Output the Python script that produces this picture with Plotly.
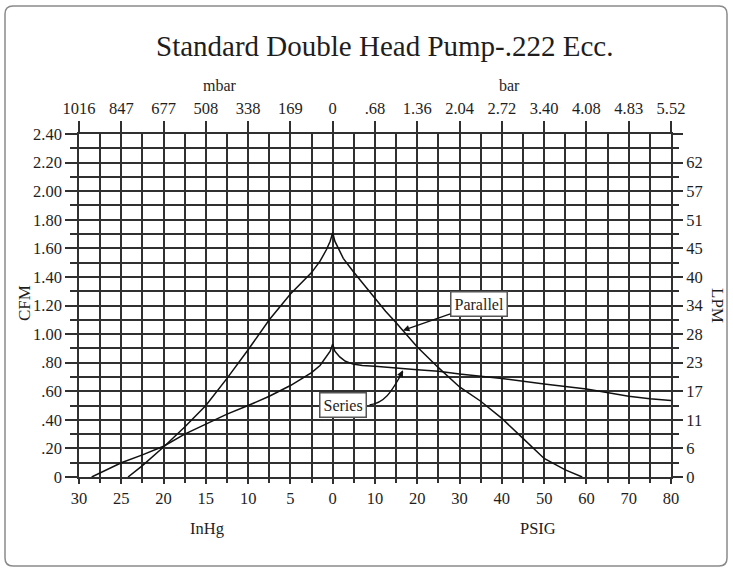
import numpy as np
import plotly.graph_objects as go

TITLE = "Standard Double Head Pump-.222 Ecc."

# Axis tick labels (positions -6..8 : 30..0 InHg vacuum, then 0..80 PSIG)
tick_pos = list(range(-6, 9))
bottom_labels = ["30", "25", "20", "15", "10", "5", "0", "10", "20", "30", "40", "50", "60", "70", "80"]
top_labels = ["1016", "847", "677", "508", "338", "169", "0", ".68", "1.36", "2.04", "2.72", "3.40", "4.08", "4.83", "5.52"]
cfm_vals = [0, 0.2, 0.4, 0.6, 0.8, 1.0, 1.2, 1.4, 1.6, 1.8, 2.0, 2.2, 2.4]
cfm_labels = ["0", ".20", ".40", ".60", ".80", "1.00", "1.20", "1.40", "1.60", "1.80", "2.00", "2.20", "2.40"]
lpm_labels = ["0", "6", "11", "17", "23", "28", "34", "40", "45", "51", "57", "62", ""]

# Parallel curve
par_vac_inhg = [24.2, 22.5, 20, 17.5, 15, 12.5, 10, 7.5, 5, 2.5, 1.5, 0.75, 0.3, 0]
par_vac_cfm = [0, 0.08, 0.21, 0.35, 0.50, 0.69, 0.89, 1.10, 1.28, 1.43, 1.51, 1.59, 1.65, 1.71]
par_prs_psig = [0.5, 1.3, 2.5, 4.8, 7.5, 9.6, 12.5, 15, 20, 25, 30, 35, 40, 45, 50, 55, 59]
par_prs_cfm = [1.65, 1.60, 1.53, 1.44, 1.34, 1.26, 1.16, 1.08, 0.91, 0.765, 0.63, 0.53, 0.41, 0.27, 0.13, 0.05, 0]

# Series curve
ser_vac_inhg = [28.5, 27.5, 25, 22.5, 20, 17.5, 15, 12.5, 10, 7.5, 5, 2.5, 1.5, 0.75, 0.3, 0]
ser_vac_cfm = [0, 0.03, 0.10, 0.155, 0.215, 0.30, 0.37, 0.44, 0.50, 0.565, 0.64, 0.73, 0.78, 0.84, 0.88, 0.93]
ser_prs_psig = [0.5, 1.66, 3, 4.8, 7, 10, 15, 20, 25, 30, 40, 45, 50, 60, 65, 70, 75, 80]
ser_prs_cfm = [0.88, 0.84, 0.81, 0.79, 0.78, 0.775, 0.76, 0.75, 0.74, 0.72, 0.69, 0.67, 0.65, 0.616, 0.59, 0.565, 0.548, 0.536]


def to_pos(vac, prs):
    return [-v / 5.0 for v in vac] + [p / 10.0 for p in prs]


par_x = to_pos(par_vac_inhg, par_prs_psig)
par_y = par_vac_cfm + par_prs_cfm
ser_x = to_pos(ser_vac_inhg, ser_prs_psig)
ser_y = ser_vac_cfm + ser_prs_cfm

W, H = 733, 569
L, R, T, B = 79, 62, 134, 92
PW, PH = W - L - R, H - T - B

FONT = "Liberation Serif, Times New Roman, serif"
INK = "#1e1e1e"
GRID = "#303030"

fig = go.Figure()
fig.add_trace(go.Scatter(x=par_x, y=par_y, mode="lines", name="Parallel",
                         line=dict(color="#111", width=1.5), hoverinfo="skip"))
fig.add_trace(go.Scatter(x=ser_x, y=ser_y, mode="lines", name="Series",
                         line=dict(color="#111", width=1.5), hoverinfo="skip"))
# carrier for secondary axes
fig.add_trace(go.Scatter(x=[0], y=[0], xaxis="x2", yaxis="y2", mode="markers",
                         marker=dict(opacity=0), hoverinfo="skip", showlegend=False))

tickfont = dict(family=FONT, size=16.5, color=INK)

fig.update_layout(
    width=W, height=H, autosize=False,
    margin=dict(l=L, r=R, t=T, b=B, pad=0),
    paper_bgcolor="white", plot_bgcolor="white",
    showlegend=False,
    xaxis=dict(range=[-6, 8], tickvals=tick_pos, ticktext=bottom_labels,
               ticks="outside", ticklen=5, tickwidth=1.5, tickcolor=GRID,
               showgrid=True, gridcolor=GRID, gridwidth=1.5,
               minor=dict(dtick=0.5, tick0=0, ticks="outside", ticklen=4, tickwidth=1.5,
                          tickcolor=GRID, showgrid=True, gridcolor=GRID, gridwidth=1.5),
               showline=True, linecolor=GRID, linewidth=1.5, mirror=True,
               zeroline=False, tickfont=tickfont, fixedrange=True),
    xaxis2=dict(range=[-6, 8], overlaying="x", side="top", tickvals=tick_pos, ticktext=top_labels,
                ticks="outside", ticklen=12, tickwidth=1.5, tickcolor=GRID,
                showgrid=False, zeroline=False, showline=False, tickfont=tickfont, fixedrange=True),
    yaxis=dict(range=[0, 2.4], tickvals=cfm_vals, ticktext=cfm_labels,
               ticks="outside", ticklen=12, tickwidth=1.5, tickcolor=GRID,
               showgrid=True, gridcolor=GRID, gridwidth=1.5,
               minor=dict(dtick=0.1, tick0=0, ticks="outside", ticklen=7, tickwidth=1.5,
                          tickcolor=GRID, showgrid=True, gridcolor=GRID, gridwidth=1.5),
               showline=True, linecolor=GRID, linewidth=1.5, mirror=True,
               zeroline=False, tickfont=tickfont, fixedrange=True),
    yaxis2=dict(range=[0, 2.4], overlaying="y", side="right", tickvals=cfm_vals, ticktext=lpm_labels,
                ticks="outside", ticklen=11, tickwidth=1.5, tickcolor=GRID,
                minor=dict(dtick=0.1, tick0=0, ticks="outside", ticklen=7, tickwidth=1.5, tickcolor=GRID),
                showgrid=False, zeroline=False, showline=False, tickfont=tickfont, fixedrange=True),
)


def px2paper(px, py):
    return (px - L) / PW, (H - B - py) / PH


annots = []


def text_at(txt, px, py, size=16, angle=0):
    x, y = px2paper(px, py)
    annots.append(dict(text=txt, x=x, y=y, xref="paper", yref="paper", showarrow=False,
                       xanchor="center", yanchor="middle", textangle=angle,
                       font=dict(family=FONT, size=size, color=INK)))


text_at(TITLE, 384, 46, size=29)
text_at("mbar", 220, 85, size=16)
text_at("bar", 509, 85, size=16)
text_at("InHg", 207, 528, size=16.5)
text_at("PSIG", 538, 528, size=16.5)
text_at("CFM", 24, 303, size=17, angle=-90)
text_at("LPM", 718, 305, size=17, angle=90)

# Parallel label with arrow
tip_pos = 16.6 / 10.0
par_tip_y = float(np.interp(tip_pos, par_x, par_y))
ser_tip_y = float(np.interp(tip_pos, ser_x, ser_y))
annots.append(dict(text="Parallel", x=tip_pos, y=par_tip_y, xref="x", yref="y",
                   ax=3.45, ay=1.21, axref="x", ayref="y", showarrow=True,
                   arrowhead=2, arrowsize=1, arrowwidth=1.3, arrowcolor="#111", standoff=0,
                   bgcolor="white", bordercolor="#555", borderwidth=1.5, borderpad=3,
                   font=dict(family=FONT, size=16, color=INK)))
# Series label (box) + curved leader + arrowhead
annots.append(dict(text="Series", x=0.25, y=0.503, xref="x", yref="y", showarrow=False,
                   bgcolor="white", bordercolor="#555", borderwidth=1.5, borderpad=3,
                   font=dict(family=FONT, size=16, color=INK)))
annots.append(dict(text="", x=tip_pos, y=ser_tip_y - 0.01, xref="x", yref="y",
                   ax=-4, ay=8, showarrow=True, arrowhead=2, arrowsize=1, arrowwidth=1.3,
                   arrowcolor="#111", standoff=0))

shapes = []
shapes.append(dict(type="path", xref="x", yref="y",
                   path=f"M 0.87,0.505 C 1.30,0.519 1.466,0.645 {tip_pos:.3f},{ser_tip_y - 0.02:.3f}",
                   line=dict(color="#111", width=1.3)))

# Rounded outer frame
x0, y0 = px2paper(5, 6)
x1, y1 = px2paper(727, 566)
rx, ry = 8 / PW, 8 / PH
frame = (f"M {x0+rx},{y0} L {x1-rx},{y0} Q {x1},{y0} {x1},{y0-ry} "
         f"L {x1},{y1+ry} Q {x1},{y1} {x1-rx},{y1} L {x0+rx},{y1} Q {x0},{y1} {x0},{y1+ry} "
         f"L {x0},{y0-ry} Q {x0},{y0} {x0+rx},{y0} Z")
shapes.append(dict(type="path", xref="paper", yref="paper", path=frame,
                   line=dict(color="#8a8a8a", width=1.5), layer="below"))

fig.update_layout(annotations=annots, shapes=shapes)
fig.write_html("out.html", config={"displayModeBar": False},
               post_script="document.body.style.margin='0';document.body.style.overflow='hidden';")
